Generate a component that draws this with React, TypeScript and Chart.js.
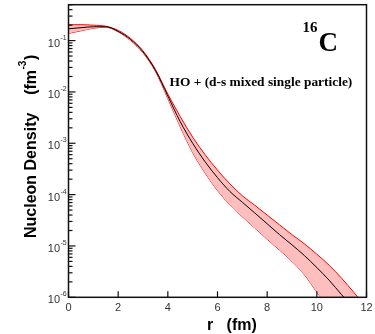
import React, { useEffect, useRef } from "react";
import { Chart, registerables } from "chart.js";

Chart.register(...registerables);

// radius grid (fm)
const rGrid = [0, 0.5, 1, 1.5, 2, 2.5, 3, 3.5, 4, 4.5, 5, 5.5, 6, 6.5, 7, 7.5, 8, 8.5, 9, 9.5, 10, 10.5, 11, 11.5, 12];

// central density curve (fm^-3)
const centerDensity = [
  0.17, 0.178, 0.186, 0.186, 0.151, 0.105, 0.0603, 0.0263, 0.00832, 0.00263,
  1.0e-3, 4.37e-4, 2.14e-4, 1.15e-4, 7.1e-5, 4.4e-5, 2.7e-5, 1.66e-5, 1.05e-5, 6.5e-6,
  3.8e-6, 2.14e-6, 1.12e-6, 6.0e-7, 3.2e-7,
];

// upper bound of band
const upperDensity = [
  0.204, 0.204, 0.1995, 0.1905, 0.158, 0.11, 0.0631, 0.0275, 0.00912, 0.00331,
  0.00132, 6.0e-4, 3.0e-4, 1.62e-4, 9.5e-5, 6.2e-5, 4.0e-5, 2.57e-5, 1.66e-5, 1.1e-5,
  6.9e-6, 4.2e-6, 2.34e-6, 1.23e-6, 6.3e-7,
];

// lower bound of band
const lowerDensity = [
  0.138, 0.155, 0.174, 0.182, 0.148, 0.1, 0.0575, 0.0251, 0.00741, 0.00209,
  6.6e-4, 2.63e-4, 1.2e-4, 6.3e-5, 3.7e-5, 2.24e-5, 1.35e-5, 8.3e-6, 5.0e-6, 2.75e-6,
  1.26e-6, 6.0e-7, 2.5e-7, 1.0e-7, 4.0e-8,
];

const xTickValues = [0, 2, 4, 6, 8, 10, 12];
const yTickExponents = [-6, -5, -4, -3, -2, -1];
const X_MIN = 0;
const X_MAX = 12;
const Y_MIN = 1e-6;
const Y_MAX = 0.5;

const nucleusMass = "16";
const nucleusSymbol = "C";
const modelLabel = "HO + (d-s mixed single particle)";
const yTitleMain = "Nucleon Density    (fm";
const yTitleSup = "-3";
const yTitleEnd = ")";
const xTitle = "r   (fm)";

const toPoints = (ys: number[]) => ys.map((v, i) => ({ x: rGrid[i], y: v }));

const decorPlugin = {
  id: "decor",
  afterDatasetsDraw(chart: any) {
    const { ctx, chartArea: a, scales } = chart;
    const x = scales.x;
    const y = scales.y;
    ctx.save();
    const line = (x1: number, y1: number, x2: number, y2: number) => {
      ctx.beginPath();
      ctx.moveTo(x1, y1);
      ctx.lineTo(x2, y2);
      ctx.stroke();
    };
    // frame
    ctx.strokeStyle = "#111";
    ctx.lineWidth = 1.5;
    ctx.strokeRect(a.left, a.top, a.right - a.left, a.bottom - a.top);

    // x ticks
    ctx.lineWidth = 1.2;
    for (const v of xTickValues) {
      const px = x.getPixelForValue(v);
      line(px, a.bottom, px, a.bottom - 6);
    }
    // y ticks (major + minor)
    for (const e of yTickExponents) {
      for (let m = 1; m <= 9; m++) {
        const v = m * Math.pow(10, e);
        if (v > Y_MAX) break;
        const py = y.getPixelForValue(v);
        line(a.left, py, a.left + (m === 1 ? 7 : 4), py);
      }
    }

    // tick labels
    ctx.fillStyle = "#333";
    ctx.font = '11px "Liberation Sans", Arial, sans-serif';
    ctx.textAlign = "center";
    ctx.textBaseline = "middle";
    for (const v of xTickValues) {
      ctx.fillText(String(v), x.getPixelForValue(v), a.bottom + 11);
    }
    for (const e of yTickExponents) {
      const py = y.getPixelForValue(Math.pow(10, e));
      ctx.font = '11px "Liberation Sans", Arial, sans-serif';
      ctx.textAlign = "right";
      ctx.textBaseline = "middle";
      ctx.fillText("10", a.left - 8.5, py + 3);
      ctx.font = '7px "Liberation Sans", Arial, sans-serif';
      ctx.textAlign = "left";
      ctx.textBaseline = "alphabetic";
      ctx.fillText(String(e), a.left - 8, py - 1);
    }

    // y title
    ctx.fillStyle = "#000";
    ctx.save();
    ctx.translate(36, 238);
    ctx.rotate(-Math.PI / 2);
    ctx.textAlign = "left";
    ctx.textBaseline = "alphabetic";
    ctx.font = 'bold 16px "Liberation Sans", Arial, sans-serif';
    ctx.fillText(yTitleMain, 0, 0);
    let w = ctx.measureText(yTitleMain).width;
    ctx.font = 'bold 10px "Liberation Sans", Arial, sans-serif';
    ctx.fillText(yTitleSup, w + 0.5, -10);
    w += ctx.measureText(yTitleSup).width + 1;
    ctx.font = 'bold 16px "Liberation Sans", Arial, sans-serif';
    ctx.fillText(yTitleEnd, w, 0);
    ctx.restore();

    // x title
    ctx.font = 'bold 16px "Liberation Sans", Arial, sans-serif';
    ctx.textAlign = "left";
    ctx.textBaseline = "alphabetic";
    ctx.fillText(xTitle, 207, 329.5);

    // nucleus label
    ctx.font = 'bold 15px "Liberation Serif", "Times New Roman", serif';
    ctx.fillText(nucleusMass, 302.5, 32.3);
    ctx.font = 'bold 27px "Liberation Serif", "Times New Roman", serif';
    ctx.fillText(nucleusSymbol, 318.5, 51);

    // model label
    ctx.font = 'bold 13.4px "Liberation Serif", "Times New Roman", serif';
    ctx.fillText(modelLabel, 169.5, 85.7);

    ctx.restore();
  },
};

export default function App() {
  const canvasRef = useRef<HTMLCanvasElement | null>(null);

  useEffect(() => {
    const canvas = canvasRef.current;
    if (!canvas) return;
    const chart = new Chart(canvas, {
      type: "line",
      data: {
        datasets: [
          {
            label: "center",
            data: toPoints(centerDensity),
            borderColor: "#000",
            borderWidth: 1,
            pointRadius: 0,
            fill: false,
            cubicInterpolationMode: "monotone",
          },
          {
            label: "upper",
            data: toPoints(upperDensity),
            borderColor: "#ff0000",
            borderWidth: 1,
            pointRadius: 0,
            fill: "+1",
            backgroundColor: "rgb(255,190,190)",
            cubicInterpolationMode: "monotone",
          },
          {
            label: "lower",
            data: toPoints(lowerDensity),
            borderColor: "#ff0000",
            borderWidth: 1,
            pointRadius: 0,
            fill: false,
            cubicInterpolationMode: "monotone",
          },
        ],
      },
      options: {
        animation: false,
        responsive: true,
        maintainAspectRatio: false,
        events: [],
        layout: { padding: { left: 0, right: 8.5, top: 4.7, bottom: 0 } },
        plugins: {
          legend: { display: false },
          tooltip: { enabled: false },
        },
        scales: {
          x: {
            type: "linear",
            min: X_MIN,
            max: X_MAX,
            grid: { display: false },
            border: { display: false },
            ticks: { display: false },
            afterFit: (s: any) => {
              s.height = 36.7;
            },
          },
          y: {
            type: "logarithmic",
            min: Y_MIN,
            max: Y_MAX,
            grid: { display: false },
            border: { display: false },
            ticks: { display: false },
            afterFit: (s: any) => {
              s.width = 68.5;
            },
          },
        },
      },
      plugins: [decorPlugin],
    } as any);
    return () => chart.destroy();
  }, []);

  return (
    <div style={{ position: "fixed", left: 0, top: 0, width: 375, height: 334, background: "#fff" }}>
      <canvas ref={canvasRef} />
    </div>
  );
}
